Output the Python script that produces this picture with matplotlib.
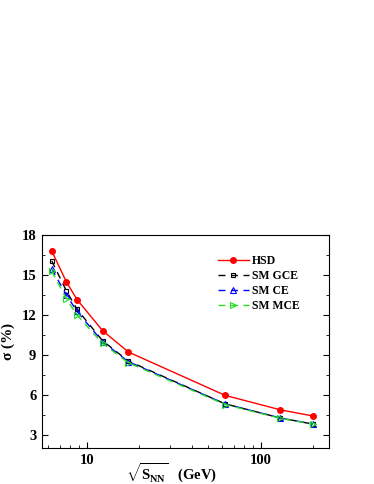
"""
Scaled variance sigma vs collision energy: HSD against statistical model ensembles.
"""
import matplotlib
matplotlib.use('Agg')
import matplotlib.pyplot as plt
from matplotlib.ticker import FixedLocator, MultipleLocator, NullFormatter

plt.rcParams['font.family'] = ['Liberation Serif', 'DejaVu Serif']
plt.rcParams['font.weight'] = 'bold'
plt.rcParams['mathtext.fontset'] = 'custom'
plt.rcParams['mathtext.rm'] = 'Liberation Serif:bold'
plt.rcParams['mathtext.it'] = 'Liberation Serif:bold'
plt.rcParams['mathtext.bf'] = 'Liberation Serif:bold'

# collision energies (GeV)
energy = [6.27, 7.62, 8.77, 12.3, 17.3, 62.4, 130, 200]

hsd = [16.81, 14.48, 13.16, 10.83, 9.23, 5.97, 4.88, 4.42]
sm_gce = [16.07, 13.80, 12.43, 10.07, 8.55, 5.33, 4.27, 3.81]
sm_ce = [15.47, 13.50, 12.27, 10.00, 8.50, 5.33, 4.27, 3.81]
sm_mce = [15.30, 13.20, 12.00, 9.87, 8.42, 5.28, 4.24, 3.80]

fig = plt.figure(figsize=(3.74, 4.84), dpi=100)
ax = fig.add_axes([0.112, 0.074, 0.768, 0.440])

ax.plot(energy, hsd, color='red', lw=1.0, marker='o', ms=4,
        mfc='red', mec='red', label='HSD', zorder=5)
ax.plot(energy, sm_gce, color='black', lw=1.0, ls=(0, (5, 4)), marker='s', ms=3.5,
        mfc='none', mec='black', mew=0.8, label='SM GCE')
ax.plot(energy, sm_ce, color='blue', lw=1.0, ls=(0, (5, 4)), marker='^', ms=4,
        mfc='none', mec='blue', mew=0.8, label='SM CE')
ax.plot(energy, sm_mce, color='#22dd22', lw=1.0, ls=(0, (5, 4)), marker='>', ms=4,
        mfc='none', mec='#22dd22', mew=0.8, label='SM MCE')

ax.set_xscale('log')
ax.set_xlim(5.5, 248)
ax.set_ylim(2, 18)
ax.yaxis.set_major_locator(MultipleLocator(3))
ax.yaxis.set_minor_locator(MultipleLocator(1.5))
ax.xaxis.set_major_locator(FixedLocator([10, 100]))
ax.xaxis.set_minor_locator(FixedLocator([6, 7, 8, 9, 20, 30, 40, 50, 60, 70, 80, 90, 200]))
ax.xaxis.set_minor_formatter(NullFormatter())
ax.set_xticklabels(['10', '100'])

ax.tick_params(which='both', direction='in', right=True, top=False, labelsize=10.5)
ax.tick_params(which='major', length=4, width=0.8, pad=4)
ax.tick_params(which='minor', length=2.5, width=0.6)
for lab in ax.get_xticklabels() + ax.get_yticklabels():
    lab.set_fontweight('bold')

ax.set_ylabel(r'$\sigma$ (%)', fontsize=11, fontweight='bold', labelpad=3)
ax.set_xlabel(r'$\sqrt{\mathrm{S_{NN}}}$   (GeV)', fontsize=10.5, fontweight='bold')
ax.xaxis.set_label_coords(0.45, -0.065)

ax.legend(loc='upper right', bbox_to_anchor=(0.935, 0.955), frameon=False,
          handlelength=2.6, labelspacing=0.25, handletextpad=0.3,
          prop={'weight': 'bold', 'size': 8.5})

for sp in ax.spines.values():
    sp.set_linewidth(0.8)

plt.savefig('out.png', dpi=100)
plt.close()
